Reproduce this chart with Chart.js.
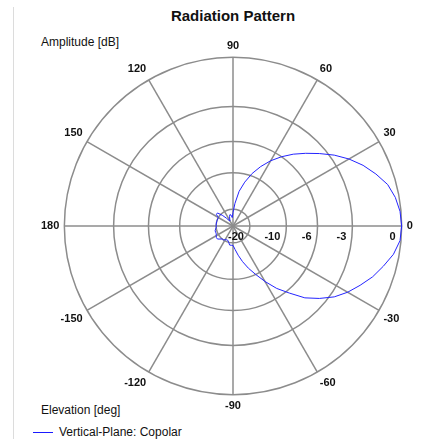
<!DOCTYPE html>
<html lang="en">
<head>
    <meta charset="UTF-8">
    <title>Radiation Pattern</title>
    <script src="https://cdn.jsdelivr.net/npm/chart.js"></script>
    <style>
        body {
            margin: 0;
            padding: 0;
            background: #ffffff;
            font-family: "Liberation Sans", Arial, sans-serif;
        }

        .page {
            position: relative;
            width: 439px;
            height: 439px;
            overflow: hidden;
        }

        .edge {
            position: absolute;
            left: 13px;
            top: 7px;
            bottom: 0;
            width: 1px;
            background: #dcdcdc;
        }

        .title {
            position: absolute;
            top: 7px;
            left: 0;
            width: 466px;
            text-align: center;
            font-weight: bold;
            font-size: 15px;
            color: #111;
        }

        .note {
            position: absolute;
            font-size: 12px;
            color: #111;
        }

        .legend-line {
            position: absolute;
            left: 33px;
            top: 432px;
            width: 20px;
            height: 1px;
            background: #1a1aff;
        }

        .chart-box {
            position: absolute;
            left: 35px;
            top: 34px;
            width: 384px;
            height: 384px;
        }
    </style>
</head>
<body>
<div class="page">
    <div class="edge"></div>
    <div class="title">Radiation Pattern</div>
    <div class="note" style="left:41px; top:35px;">Amplitude [dB]</div>
    <div class="note" style="left:41px; top:403px;">Elevation [deg]</div>
    <div class="legend-line"></div>
    <div class="note" style="left:59px; top:425px;">Vertical-Plane: Copolar</div>
    <div class="chart-box">
        <canvas id="pattern-chart"></canvas>
    </div>
</div>
<script>
    // elevation angles in degrees, read every 5 deg
    var elevationDeg = [
        -180, -175, -170, -165, -160, -155, -150, -145, -140, -135, -130, -125,
        -120, -115, -110, -105, -100, -95, -90, -85, -80, -75, -70, -65,
        -60, -55, -50, -45, -40, -35, -30, -25, -20, -15, -10, -5,
        0, 5, 10, 15, 20, 25, 30, 35, 40, 45, 50, 55,
        60, 65, 70, 75, 80, 85, 90, 95, 100, 105, 110, 115,
        120, 125, 130, 135, 140, 145, 150, 155, 160, 165, 170, 175
    ];
    // copolar amplitude in dB
    var copolarDb = [
        -20.0, -20.0, -19.6, -19.2, -19.2, -19.2, -18.8, -18.4, -18.4, -19.2, -20.0, -20.0,
        -20.5, -20.9, -20.9, -20.0, -18.8, -18.8, -18.8, -17.1, -15.1, -13.2, -11.5, -10.0,
        -8.4, -6.9, -5.7, -4.4, -3.5, -2.7, -2.1, -1.6, -1.1, -0.7, -0.3, -0.05,
        0, -0.05, -0.2, -0.45, -0.9, -1.4, -2.0, -2.7, -3.5, -4.3, -5.1, -6.0,
        -7.0, -8.2, -9.6, -11.4, -13.6, -17.4, -21.9, -26.0, -23.7, -23.1, -24.4, -26.9,
        -29.1, -28.0, -24.4, -20.9, -18.4, -18.4, -20.0, -20.0, -20.0, -20.0, -20.0, -20.0
    ];
    var amplitudeTicksDb = [-20, -10, -6, -3, 0];
    var angleStep = 5;

    function dbToAmp(db) {
        return Math.pow(10, db / 20);
    }

    // radar goes clockwise from the start angle, so elevation goes down
    var labels = [];
    var values = [];
    for (var i = 0; i < 360 / angleStep; i++) {
        var e = -i * angleStep;
        if (e < -175) e += 360;
        labels.push(String(e));
        var k = elevationDeg.indexOf(e === 180 ? -180 : e);
        values.push(dbToAmp(copolarDb[k]));
    }

    var tickAmps = [0].concat(amplitudeTicksDb.map(dbToAmp));

    var dbLabels = {
        id: 'dbLabels',
        afterDatasetsDraw: function (chart) {
            var scale = chart.scales.r;
            var ctx = chart.ctx;
            ctx.save();
            ctx.font = 'bold 11px "Liberation Sans", Arial';
            ctx.fillStyle = '#111';
            ctx.textAlign = 'right';
            ctx.textBaseline = 'middle';
            amplitudeTicksDb.forEach(function (db) {
                var d = scale.getDistanceFromCenterForValue(dbToAmp(db));
                ctx.fillText(String(db), scale.xCenter + d - 6, scale.yCenter + 11);
            });
            ctx.restore();
        }
    };

    var gridGrey = '#8c8c8c';

    new Chart(document.getElementById('pattern-chart').getContext('2d'), {
        type: 'radar',
        data: {
            labels: labels,
            datasets: [{
                label: 'Vertical-Plane: Copolar',
                data: values,
                borderColor: '#2424ff',
                borderWidth: 1,
                pointRadius: 0,
                fill: false,
                tension: 0
            }]
        },
        options: {
            responsive: true,
            maintainAspectRatio: false,
            animation: false,
            plugins: {
                legend: {display: false},
                tooltip: {enabled: false}
            },
            scales: {
                r: {
                    min: 0,
                    max: 1,
                    startAngle: 90,
                    afterBuildTicks: function (scale) {
                        scale.ticks = tickAmps.map(function (v) { return {value: v}; });
                    },
                    ticks: {display: false},
                    grid: {
                        circular: true,
                        color: gridGrey,
                        lineWidth: 1.5
                    },
                    angleLines: {
                        color: gridGrey,
                        lineWidth: function (c) {
                            return c.index % (30 / angleStep) === 0 ? 1.5 : 0;
                        }
                    },
                    pointLabels: {
                        padding: 5,
                        color: '#111',
                        font: {family: '"Liberation Sans", Arial', size: 11, weight: 'bold'},
                        callback: function (label) {
                            return Number(label) % 30 === 0 ? label : '';
                        }
                    }
                }
            }
        },
        plugins: [dbLabels]
    });
</script>
</body>
</html>
